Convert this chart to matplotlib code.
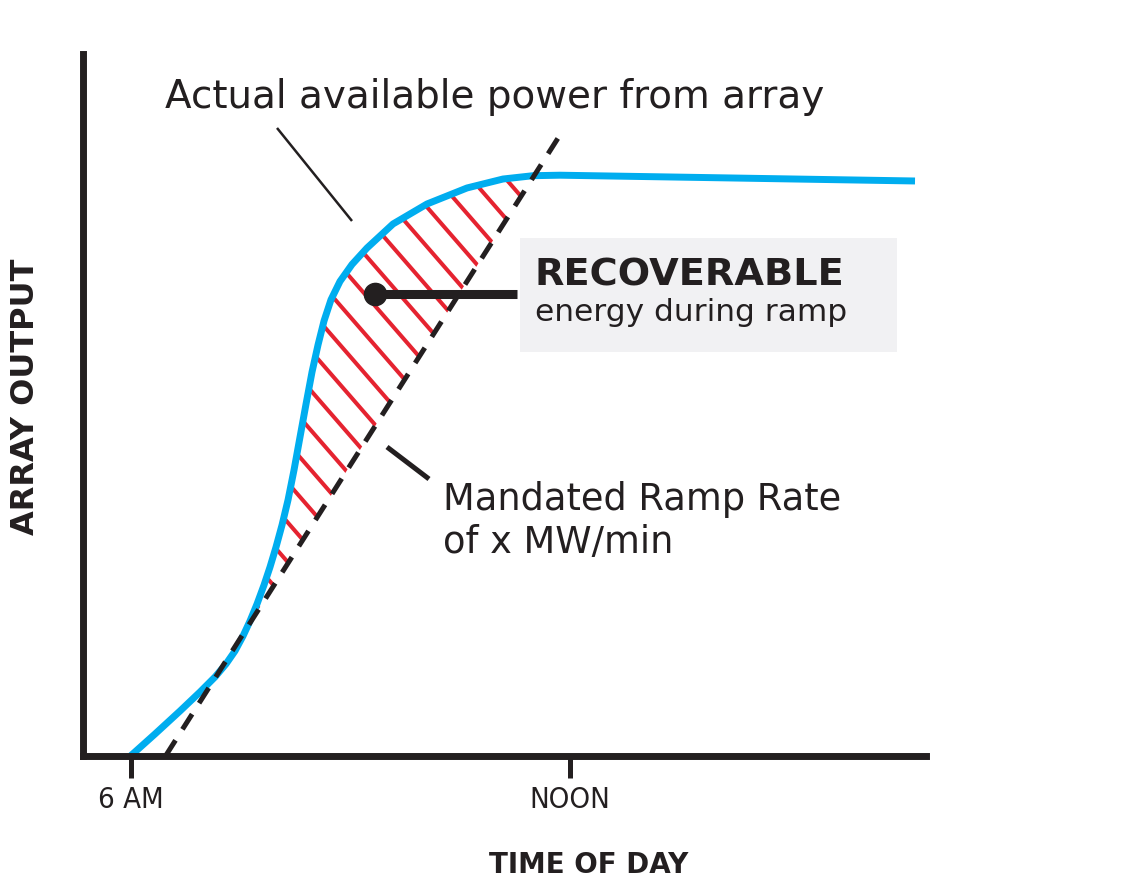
import os
import matplotlib
matplotlib.use("Agg")
import matplotlib.pyplot as plt
import numpy as np
from matplotlib.patches import Polygon, Rectangle
from matplotlib import font_manager

# ---------------- data ----------------
hours = [6.000, 6.328, 6.670, 6.943, 7.148, 7.298, 7.421, 7.531, 7.626, 7.722,
         7.818, 7.900, 7.982, 8.064, 8.146, 8.228, 8.310, 8.392, 8.474, 8.556,
         8.638, 8.733, 8.856, 9.020, 9.225, 9.581, 10.045, 10.592, 11.084, 11.494,
         11.863, 13.777, 16.715]
array_output = [0.0000, 0.0305, 0.0631, 0.0900, 0.1113, 0.1297, 0.1481, 0.1694, 0.1906, 0.2147,
                0.2417, 0.2672, 0.2955, 0.3267, 0.3622, 0.4047, 0.4515, 0.4982, 0.5436, 0.5820,
                0.6160, 0.6460, 0.6720, 0.6960, 0.7193, 0.7534, 0.7817, 0.8044, 0.8171, 0.8218,
                0.8225, 0.8193, 0.8143]
ramp_hours = [6.476, 11.863]
ramp_output = [0.0, 0.8795]
tick_hours = [6, 12]
tick_labels = ["6 AM", "NOON"]

INK = "#231F20"
BLUE = "#00ADEF"
RED = "#E52330"
BOX = "#F1F1F3"
MAIN = "DejaVu Sans"


def pick_condensed():
    prefs = ["dejavusanscondensed", "robotocondensed-regular", "liberationsansnarrow-regular",
             "opensans_condensed-regular", "opensanscondensed-regular"]
    files = [f.fname for f in font_manager.fontManager.ttflist]
    for p in prefs:
        for fn in files:
            b = os.path.basename(fn).lower()
            if b.startswith(p) and "bold" not in b and "oblique" not in b and "italic" not in b:
                return fn
    return None


cond_file = pick_condensed()
if cond_file:
    tick_fp = font_manager.FontProperties(fname=cond_file, size=21)
else:
    tick_fp = font_manager.FontProperties(family=MAIN, size=17)

W, H = 1130, 880
fig = plt.figure(figsize=(W / 100, H / 100), dpi=100)
ax = fig.add_axes([82.5 / W, 1 - 755.5 / H, (926.5 - 82.5) / W, (755.5 - 53.5) / H])
ax.set_xlim(5.337, 16.872)
ax.set_ylim(0, 0.995)

SX = 73.17   # px per hour
SY = 705.5   # px per output unit


def dx(px):
    return 6 + (px - 131) / SX


def dy(py):
    return (755.5 - py) / SY


def fx(px):
    return px / W


def fy(py):
    return 1 - py / H


# spines
for s in ["top", "right"]:
    ax.spines[s].set_visible(False)
for s in ["left", "bottom"]:
    ax.spines[s].set_linewidth(5)
    ax.spines[s].set_color(INK)
    ax.spines[s].set_capstyle("projecting")
    ax.spines[s].set_zorder(6)
ax.set_yticks([])
ax.set_xticks(tick_hours)
ax.set_xticklabels(tick_labels, color=INK)
for lab in ax.get_xticklabels():
    lab.set_fontproperties(tick_fp)
ax.tick_params(axis="x", direction="out", length=16, width=3.6, color=INK, pad=6)

# hatched region between actual curve and ramp line
h = np.array(hours)
o = np.array(array_output)
sel = (o >= 0.19) & (h <= 11.5)
hb = h[sel]
ob = o[sel]
hr = np.interp(ob, ramp_output, ramp_hours)
verts = np.vstack([np.column_stack([hb, ob]), np.column_stack([hr[::-1], ob[::-1]])])
region = Polygon(verts, closed=True, facecolor="none", edgecolor="none")
ax.add_patch(region)

theta = np.deg2rad(49)
spacing_px = 26
hsp = spacing_px / np.sin(theta)
L = 700
for k in range(-24, 3):
    x0 = 512 + k * hsp
    y0 = 186
    p1 = (x0 - L * np.cos(theta), y0 - L * np.sin(theta))
    p2 = (x0 + L * np.cos(theta), y0 + L * np.sin(theta))
    ln, = ax.plot([dx(p1[0]), dx(p2[0])], [dy(p1[1]), dy(p2[1])],
                  color=RED, lw=2.9, solid_capstyle="butt", zorder=2)
    ln.set_clip_path(region)

# actual curve and ramp line
ax.plot(hours, array_output, color=BLUE, lw=5, solid_capstyle="butt",
        solid_joinstyle="round", zorder=3)
ax.plot(ramp_hours, ramp_output, color=INK, lw=3.6, linestyle=(0, (3.6, 2.6)),
        dash_capstyle="butt", zorder=4)

# leader: actual power
ax.plot([dx(277), dx(352)], [dy(128), dy(221)], color=INK, lw=1.8, zorder=4,
        solid_capstyle="butt")
# leader: mandated ramp
ax.plot([dx(387), dx(429)], [dy(447), dy(479)], color=INK, lw=3.6, zorder=4,
        solid_capstyle="butt", clip_on=False)

# recoverable box
ax.add_patch(Rectangle((dx(520), dy(352)), dx(897) - dx(520), dy(238) - dy(352),
                       facecolor=BOX, edgecolor="none", zorder=1, clip_on=False))
ax.plot([dx(375), dx(517)], [dy(294), dy(294)], color=INK, lw=6.5, zorder=5,
        solid_capstyle="butt")
ax.plot([dx(375)], [dy(294)], marker="o", markersize=16, color=INK, zorder=5)

# texts
fig.text(fx(165), fy(108), "Actual available power from array", fontsize=28,
         family=MAIN, color=INK, ha="left", va="baseline")
fig.text(fx(535), fy(286), "RECOVERABLE", fontsize=27.5, fontweight="bold",
         family=MAIN, color=INK, ha="left", va="baseline")
fig.text(fx(535), fy(321), "energy during ramp", fontsize=22.5,
         family=MAIN, color=INK, ha="left", va="baseline")
fig.text(fx(443), fy(510), "Mandated Ramp Rate", fontsize=26.5,
         family=MAIN, color=INK, ha="left", va="baseline")
fig.text(fx(443), fy(553), "of x MW/min", fontsize=26.5,
         family=MAIN, color=INK, ha="left", va="baseline")
fig.text(fx(589), fy(873), "TIME OF DAY", fontsize=20, fontweight="bold",
         family=MAIN, color=INK, ha="center", va="baseline")
fig.text(fx(26), fy(397), "ARRAY OUTPUT", fontsize=23, fontweight="bold",
         family=MAIN, color=INK, ha="center", va="center", rotation=90)

fig.savefig("out.png", dpi=100, facecolor="white")
